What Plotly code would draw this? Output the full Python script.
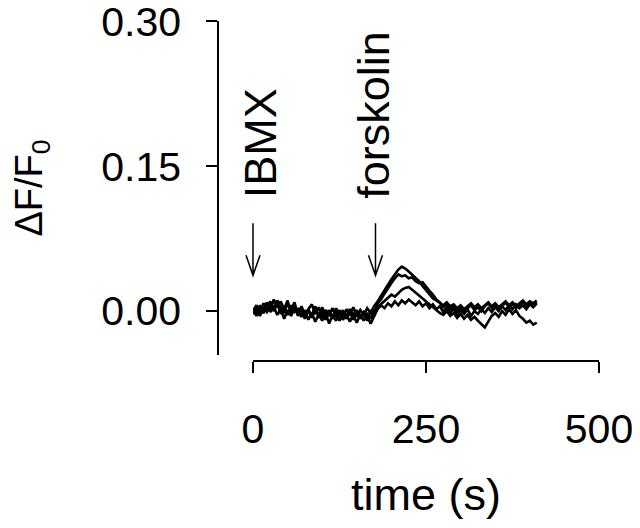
import plotly.graph_objects as go

# time points (s)
time_s = [0, 5, 10, 15, 20, 25, 30, 35, 40, 45, 50, 55, 60, 65, 70, 75, 80, 85, 90, 95,
          100, 105, 110, 115, 120, 125, 130, 135, 140, 145, 150, 155, 160, 165, 170, 175,
          180, 185, 190, 195, 200, 205, 210, 215, 220, 225, 230, 235, 240, 245, 250, 255,
          260, 265, 270, 275, 280, 285, 290, 295, 300, 305, 310, 315, 320, 325, 330, 335,
          340, 345, 350, 355, 360, 365, 370, 375, 380, 385, 390, 395, 400, 405, 410]

# dF/F0 traces (4 cells)
cell_1 = [0.000, 0.006, -0.003, 0.008, 0.003, 0.010, 0.002, 0.011, 0.004, -0.002, 0.008, 0.001,
          0.009, -0.004, 0.004, -0.006, 0.002, 0.007, -0.003, 0.004, -0.007, 0.001, -0.004, 0.003,
          -0.006, 0.001, -0.008, 0.002, -0.003, 0.004, -0.006, 0.001, -0.004, 0.003, -0.002, 0.005,
          0.010, 0.016, 0.022, 0.027, 0.033, 0.038, 0.043, 0.046, 0.044, 0.041, 0.038, 0.034,
          0.031, 0.026, 0.022, 0.018, 0.013, 0.011, 0.008, 0.006, 0.009, 0.005, 0.007, 0.003,
          0.006, 0.002, 0.005, 0.008, 0.004, 0.007, 0.003, 0.006, 0.009, 0.005, 0.008, 0.004,
          0.007, 0.010, 0.006, 0.009, 0.005, 0.008, 0.011, 0.007, 0.010, 0.008, 0.011]
cell_2 = [0.003, -0.004, 0.006, -0.002, 0.009, 0.001, 0.012, 0.004, 0.010, 0.002, 0.011, -0.003,
          0.005, -0.005, 0.001, -0.008, 0.000, -0.004, 0.005, -0.007, 0.000, -0.009, -0.001, -0.006,
          0.003, -0.005, 0.001, -0.008, -0.001, -0.009, 0.000, -0.006, -0.002, -0.010, 0.001, -0.004,
          0.008, 0.012, 0.018, 0.024, 0.029, 0.034, 0.038, 0.036, 0.037, 0.034, 0.035, 0.031,
          0.029, 0.030, 0.025, 0.021, 0.017, 0.012, 0.009, 0.004, 0.007, 0.002, 0.005, 0.000,
          0.004, -0.001, 0.003, 0.006, 0.001, 0.004, 0.000, 0.005, 0.008, 0.003, 0.006, 0.002,
          0.005, 0.009, 0.004, 0.007, 0.003, 0.006, 0.010, 0.005, 0.008, 0.006, 0.009]
cell_3 = [-0.003, 0.002, -0.005, 0.004, -0.001, 0.006, 0.000, 0.008, -0.003, 0.005, -0.004, 0.006,
          -0.001, 0.002, -0.006, 0.001, -0.009, -0.002, -0.011, -0.003, -0.010, -0.002, -0.013, -0.004,
          -0.010, -0.002, -0.009, -0.003, -0.011, -0.004, -0.012, -0.003, -0.010, -0.002, -0.008, 0.000,
          0.004, 0.007, 0.010, 0.014, 0.017, 0.015, 0.019, 0.022, 0.024, 0.025, 0.022, 0.019,
          0.016, 0.013, 0.010, 0.007, 0.004, 0.001, -0.002, -0.004, 0.000, -0.005, -0.002, -0.007,
          -0.003, -0.008, -0.004, -0.009, -0.006, -0.010, -0.014, -0.017, -0.011, -0.005, -0.002, -0.006,
          0.000, -0.004, 0.002, -0.003, 0.001, -0.005, -0.008, -0.012, -0.010, -0.014, -0.012]
cell_4 = [0.001, -0.005, 0.004, -0.002, 0.007, -0.001, 0.005, -0.004, 0.002, -0.008, 0.001, -0.005,
          0.004, -0.002, 0.005, -0.004, 0.002, -0.007, 0.001, -0.004, 0.004, -0.005, 0.001, -0.008,
          -0.001, -0.010, -0.002, -0.006, 0.002, -0.004, 0.001, -0.008, -0.001, -0.005, -0.013, -0.005,
          0.002, 0.006, 0.003, 0.008, 0.005, 0.010, 0.006, 0.011, 0.008, 0.012, 0.009, 0.006,
          0.010, 0.005, 0.008, 0.003, 0.007, 0.002, 0.005, -0.001, 0.004, -0.002, 0.003, -0.004,
          0.001, -0.003, 0.002, -0.005, 0.000, -0.003, 0.002, -0.002, 0.003, -0.001, 0.004, 0.000,
          0.005, 0.001, 0.006, 0.002, 0.007, 0.003, 0.006, 0.002, 0.007, 0.004, 0.008]

x_ticks = [0, 250, 500]
y_ticks = [0.0, 0.15, 0.30]
y_ticktext = ["0.00", "0.15", "0.30"]

# drug additions
drugs = ["IBMX", "forskolin"]
drug_times = [0, 177]
label_xshift = [7, -2]

# page puts the plot 8px in from the corner, so lay out in screen px minus 8
OFF = 8
W, H = 640 - 2 * OFF, 528 - 2 * OFF
FONT = "Liberation Sans, Arial, Helvetica, sans-serif"


def px(x):
    return (x - OFF) / W


def py(y):
    return 1 - (y - OFF) / H


X_DOM = [px(253), px(599)]
X_RANGE = [0, 500]

fig = go.Figure()
for cell in [cell_1, cell_2, cell_3, cell_4]:
    fig.add_trace(go.Scatter(x=time_s, y=cell, mode="lines",
                             line=dict(color="black", width=2.6), showlegend=False))

# arrows + rotated labels
for name, t, xs in zip(drugs, drug_times, label_xshift):
    xp = X_DOM[0] + (X_DOM[1] - X_DOM[0]) * (t - X_RANGE[0]) / (X_RANGE[1] - X_RANGE[0])
    fig.add_shape(type="path", xref="paper", yref="y", xsizemode="pixel", ysizemode="pixel",
                  xanchor=xp, yanchor=0.037,
                  path="M 0,0 L 0,52 M -7,20 L 0,0 L 7,20",
                  line=dict(color="black", width=1.5))
    fig.add_annotation(x=t, y=0.091, xref="x", yref="y", text=name, showarrow=False,
                       textangle=-90, xanchor="center", yanchor="bottom",
                       xshift=xs, yshift=23, font=dict(size=45, color="black", family=FONT))

fig.update_layout(
    template="none",
    width=W, height=H,
    margin=dict(l=0, r=0, t=0, b=0),
    paper_bgcolor="white", plot_bgcolor="white",
    font=dict(family=FONT, color="black"),
    xaxis=dict(domain=X_DOM, range=X_RANGE, anchor="free", position=py(361),
               automargin=False,
               showline=True, linecolor="black", linewidth=1.5, showgrid=False, zeroline=False,
               ticks="outside", ticklen=11, tickwidth=1.5, tickcolor="black",
               tickvals=x_ticks, tickfont=dict(size=41), ticklabelstandoff=21,
               ticklabeloverflow="allow",
               title=dict(text="time (s)", font=dict(size=45), standoff=28)),
    yaxis=dict(domain=[py(355), py(21)], range=[-0.0455, 0.3005], anchor="free",
               position=px(218), automargin=False,
               showline=True, linecolor="black", linewidth=1.5, showgrid=False, zeroline=False,
               ticks="outside", ticklen=11, tickwidth=1.5, tickcolor="black",
               tickvals=y_ticks, ticktext=y_ticktext, tickfont=dict(size=41), ticklabelstandoff=17,
               ticklabeloverflow="allow",
               title=dict(text="ΔF/F<sub>0</sub>", font=dict(size=38), standoff=48)),
)

fig.write_html("out.html")
